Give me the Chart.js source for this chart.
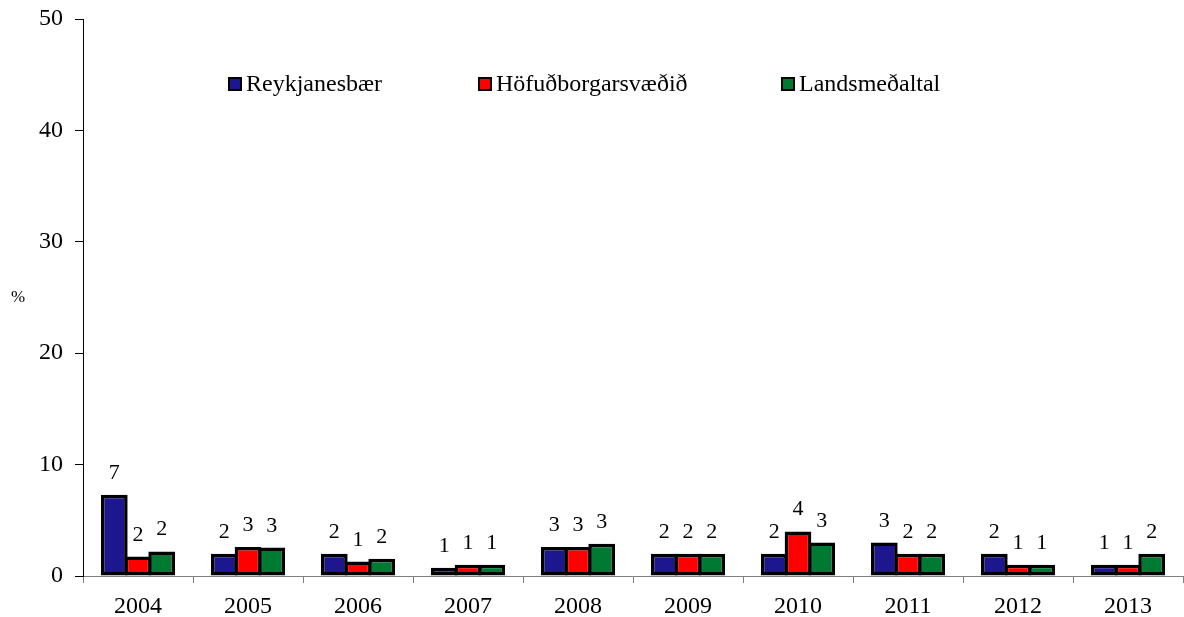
<!DOCTYPE html>
<html>
<head>
<meta charset="utf-8">
<script src="https://cdn.jsdelivr.net/npm/chart.js@4.4.0/dist/chart.umd.min.js"></script>
<style>
  html, body { margin: 0; padding: 0; background: #fff; }
  #wrap { width: 1184px; height: 617px; }
</style>
</head>
<body>
<div id="wrap"><canvas id="myChart" width="1184" height="617"></canvas></div>
<script>
let years = ['2004', '2005', '2006', '2007', '2008', '2009', '2010', '2011', '2012', '2013']
let reykjanesbaer = [7.3, 2.0, 2.0, 0.75, 2.6, 2.0, 2.0, 3.0, 2.0, 1.0]
let hofudborgarsvaedid = [1.75, 2.6, 1.3, 1.0, 2.6, 2.0, 4.0, 2.0, 1.0, 1.0]
let landsmedaltal = [2.2, 2.55, 1.55, 1.0, 2.9, 2.0, 3.0, 2.0, 1.0, 2.0]
let yTicks = [0, 10, 20, 30, 40, 50]

const serif = "'Liberation Serif', 'Times New Roman', serif"

// tolur fyrir ofan sulurnar
const merkingar = {
    id: 'merkingar',
    afterDatasetsDraw(chart) {
        const ctx = chart.ctx
        ctx.save()
        ctx.font = '22px ' + serif
        ctx.fillStyle = '#000'
        ctx.textAlign = 'center'
        ctx.textBaseline = 'alphabetic'
        chart.data.datasets.forEach((ds, d) => {
            const meta = chart.getDatasetMeta(d)
            meta.data.forEach((bar, i) => {
                ctx.fillText(String(Math.round(ds.data[i])), bar.x, bar.y - 16)
            })
        })
        ctx.restore()
    }
}

// skyring inni i grafinu
const skyring = {
    id: 'skyring',
    afterDraw(chart) {
        const ctx = chart.ctx
        const xs = [228, 478, 781]
        const y = 84
        ctx.save()
        ctx.font = '24px ' + serif
        ctx.textBaseline = 'middle'
        chart.data.datasets.forEach((ds, d) => {
            ctx.fillStyle = ds.backgroundColor
            ctx.fillRect(xs[d] + 1, y - 6, 12, 12)
            ctx.lineWidth = 2
            ctx.strokeStyle = '#000'
            ctx.strokeRect(xs[d] + 1, y - 6, 12, 12)
            ctx.fillStyle = '#000'
            ctx.fillText(ds.label, xs[d] + 18, y + 1)
        })
        // %
        ctx.font = '17px ' + serif
        ctx.textAlign = 'center'
        ctx.fillText('%', 18, 298)
        ctx.restore()
    }
}

const data = {
    labels: years,
    datasets: [
        {
            label: 'Reykjanesbær',
            data: reykjanesbaer,
            backgroundColor: '#1c168f',
            borderColor: '#000',
            borderWidth: 3.5,
        },
        {
            label: 'Höfuðborgarsvæðið',
            data: hofudborgarsvaedid,
            backgroundColor: '#ff0000',
            borderColor: '#000',
            borderWidth: 3.5,
        },
        {
            label: 'Landsmeðaltal',
            data: landsmedaltal,
            backgroundColor: '#007a33',
            borderColor: '#000',
            borderWidth: 3.5,
        },
    ],
}

const config = {
    type: 'bar',
    data,
    options: {
        responsive: false,
        animation: false,
        layout: { padding: { top: 19, right: 1, left: 0, bottom: 0 } },
        datasets: {
            bar: { categoryPercentage: 0.6455, barPercentage: 1.127, borderSkipped: false }
        },
        plugins: {
            legend: { display: false },
            tooltip: { enabled: false },
        },
        scales: {
            x: {
                grid: {
                    offset: true,
                    drawOnChartArea: false,
                    drawTicks: true,
                    tickLength: 7,
                    color: '#808080',
                },
                border: { color: '#808080', width: 1 },
                ticks: {
                    color: '#000',
                    font: { family: serif, size: 24 },
                    padding: 9,
                    maxRotation: 0,
                },
                afterFit(scale) {
                    scale.height = 41
                    scale.paddingLeft = 0
                    scale.paddingRight = 0
                },
            },
            y: {
                min: 0,
                max: 50,
                afterBuildTicks(scale) {
                    scale.ticks = yTicks.map(v => ({ value: v }))
                },
                grid: {
                    drawOnChartArea: false,
                    drawTicks: true,
                    tickLength: 8,
                    color: '#000',
                },
                border: { color: '#000', width: 1 },
                ticks: {
                    color: '#000',
                    font: { family: serif, size: 24 },
                    padding: 12,
                },
                afterFit(scale) {
                    scale.width = 83
                    scale.paddingTop = 0
                    scale.paddingBottom = 0
                },
            },
        },
    },
    plugins: [merkingar, skyring],
}

const myChart = new Chart(document.getElementById('myChart').getContext('2d'), config)
</script>
</body>
</html>
